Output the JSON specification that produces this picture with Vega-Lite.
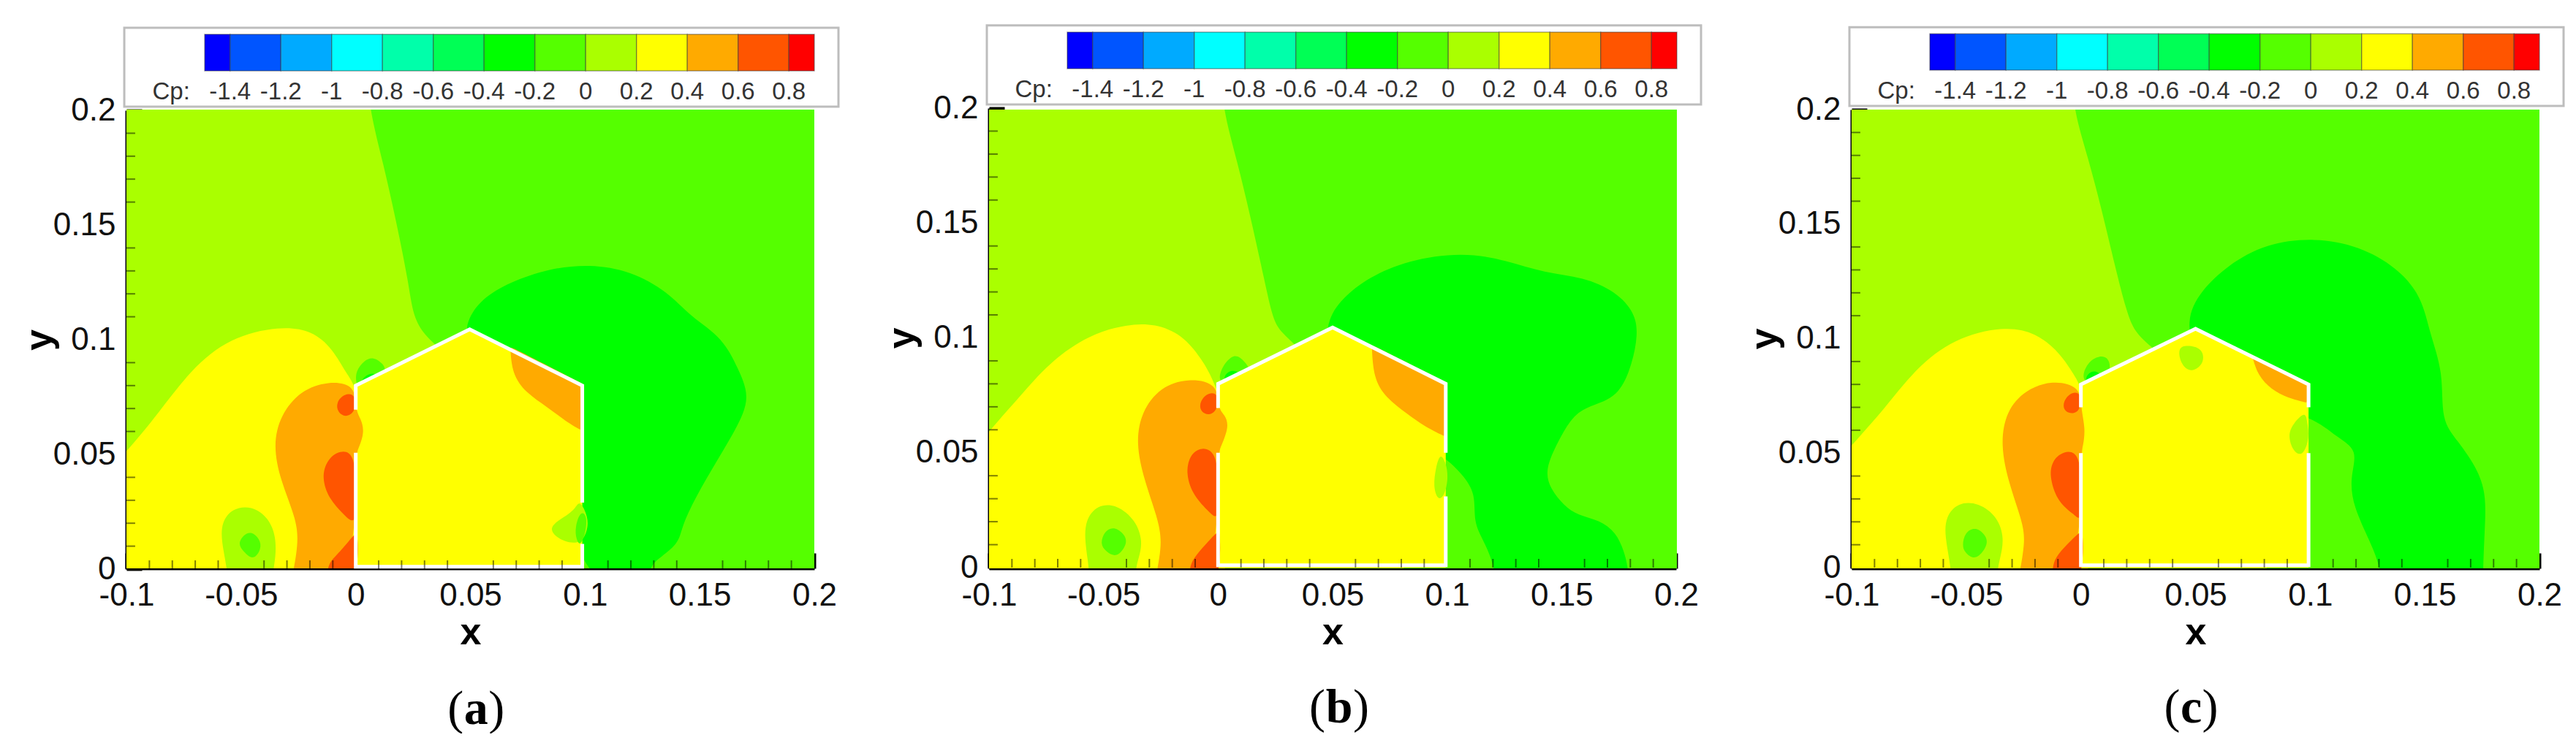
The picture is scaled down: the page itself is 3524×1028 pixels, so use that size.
{
"$schema":"https://vega.github.io/schema/vega-lite/v6.json",
"background":"white",
"padding":{"left":27,"top":33,"right":0,"bottom":0},
"bounds":"flush",
"spacing":239,
"config":{"view":{"stroke":null},"font":"Liberation Sans",
"axis":{"grid":false,"labelFont":"Liberation Sans","labelFontSize":44,"labelColor":"#111","domainColor":"black","domainWidth":4,"tickColor":"black","tickWidth":4,"tickSize":-21,"titleFont":"Liberation Sans","titleFontWeight":"bold","titleFontSize":52,"titleColor":"black","zindex":1}},
"datasets":{
"bands":[
{"level":-1.45,"from":-1.5,"to":-1.4},{"level":-1.3,"from":-1.4,"to":-1.2},{"level":-1.1,"from":-1.2,"to":-1.0},{"level":-0.9,"from":-1.0,"to":-0.8},{"level":-0.7,"from":-0.8,"to":-0.6},{"level":-0.5,"from":-0.6,"to":-0.4},{"level":-0.3,"from":-0.4,"to":-0.2},{"level":-0.1,"from":-0.2,"to":0},{"level":0.1,"from":0,"to":0.2},{"level":0.3,"from":0.2,"to":0.4},{"level":0.5,"from":0.4,"to":0.6},{"level":0.7,"from":0.6,"to":0.8},{"level":0.85,"from":0.8,"to":0.9}],
"cplabels":[{"cp":-1.4,"label":"-1.4"},{"cp":-1.2,"label":"-1.2"},{"cp":-1,"label":"-1"},{"cp":-0.8,"label":"-0.8"},{"cp":-0.6,"label":"-0.6"},{"cp":-0.4,"label":"-0.4"},{"cp":-0.2,"label":"-0.2"},{"cp":0,"label":"0"},{"cp":0.2,"label":"0.2"},{"cp":0.4,"label":"0.4"},{"cp":0.6,"label":"0.6"},{"cp":0.8,"label":"0.8"}],
"xminor":[{"v":-0.09},{"v":-0.08},{"v":-0.07},{"v":-0.06},{"v":-0.04},{"v":-0.03},{"v":-0.02},{"v":-0.01},{"v":0.01},{"v":0.02},{"v":0.03},{"v":0.04},{"v":0.06},{"v":0.07},{"v":0.08},{"v":0.09},{"v":0.11},{"v":0.12},{"v":0.13},{"v":0.14},{"v":0.16},{"v":0.17},{"v":0.18},{"v":0.19}],
"yminor":[{"v":0.01},{"v":0.02},{"v":0.03},{"v":0.04},{"v":0.06},{"v":0.07},{"v":0.08},{"v":0.09},{"v":0.11},{"v":0.12},{"v":0.13},{"v":0.14},{"v":0.16},{"v":0.17},{"v":0.18},{"v":0.19}],
"walls":[
{"panel":"a","part":1,"x":0,"y":0.0695},{"panel":"a","part":1,"x":0,"y":0.08},{"panel":"a","part":1,"x":0.0497,"y":0.1045},{"panel":"a","part":1,"x":0.0988,"y":0.08},{"panel":"a","part":1,"x":0.0988,"y":0.029},
{"panel":"a","part":2,"x":0.0988,"y":0.011},{"panel":"a","part":2,"x":0.0988,"y":0.001},{"panel":"a","part":2,"x":0,"y":0.001},{"panel":"a","part":2,"x":0,"y":0.0507},
{"panel":"b","part":1,"x":0,"y":0.0695},{"panel":"b","part":1,"x":0,"y":0.08},{"panel":"b","part":1,"x":0.05,"y":0.1045},{"panel":"b","part":1,"x":0.0994,"y":0.08},{"panel":"b","part":1,"x":0.0994,"y":0.05},
{"panel":"b","part":2,"x":0.0994,"y":0.031},{"panel":"b","part":2,"x":0.0994,"y":0.001},{"panel":"b","part":2,"x":0,"y":0.001},{"panel":"b","part":2,"x":0,"y":0.05},
{"panel":"c","part":1,"x":0,"y":0.07},{"panel":"c","part":1,"x":0,"y":0.08},{"panel":"c","part":1,"x":0.05,"y":0.1043},{"panel":"c","part":1,"x":0.0993,"y":0.08},{"panel":"c","part":1,"x":0.0993,"y":0.07},
{"panel":"c","part":2,"x":0.0993,"y":0.05},{"panel":"c","part":2,"x":0.0993,"y":0.001},{"panel":"c","part":2,"x":0,"y":0.001},{"panel":"c","part":2,"x":0,"y":0.05}],
"contours":[
{"panel":"a","region":1,"level":0.1,"x":-0.6,"y":-0.4},{"panel":"a","region":1,"level":0.1,"x":0.7,"y":-0.4},{"panel":"a","region":1,"level":0.1,"x":0.7,"y":0.6},{"panel":"a","region":1,"level":0.1,"x":-0.6,"y":0.6},
{"panel":"a","region":2,"level":-0.1,"x":0.005,"y":0.217},{"panel":"a","region":2,"level":-0.1,"x":0.006,"y":0.2},{"panel":"a","region":2,"level":-0.1,"x":0.012,"y":0.177},{"panel":"a","region":2,"level":-0.1,"x":0.018,"y":0.15},{"panel":"a","region":2,"level":-0.1,"x":0.023,"y":0.125},{"panel":"a","region":2,"level":-0.1,"x":0.025,"y":0.11},{"panel":"a","region":2,"level":-0.1,"x":0.03,"y":0.102},{"panel":"a","region":2,"level":-0.1,"x":0.036,"y":0.097},{"panel":"a","region":2,"level":-0.1,"x":0.05,"y":0.08},{"panel":"a","region":2,"level":-0.1,"x":0.08,"y":0.02},{"panel":"a","region":2,"level":-0.1,"x":0.1,"y":-0.1},{"panel":"a","region":2,"level":-0.1,"x":0.35,"y":-0.1},{"panel":"a","region":2,"level":-0.1,"x":0.35,"y":0.35},{"panel":"a","region":2,"level":-0.1,"x":0.005,"y":0.35},
{"panel":"a","region":3,"level":-0.3,"x":0.048,"y":0.098},{"panel":"a","region":3,"level":-0.3,"x":0.048,"y":0.108},{"panel":"a","region":3,"level":-0.3,"x":0.055,"y":0.118},{"panel":"a","region":3,"level":-0.3,"x":0.067,"y":0.125},{"panel":"a","region":3,"level":-0.3,"x":0.084,"y":0.131},{"panel":"a","region":3,"level":-0.3,"x":0.102,"y":0.133},{"panel":"a","region":3,"level":-0.3,"x":0.12,"y":0.13},{"panel":"a","region":3,"level":-0.3,"x":0.136,"y":0.121},{"panel":"a","region":3,"level":-0.3,"x":0.146,"y":0.11},{"panel":"a","region":3,"level":-0.3,"x":0.16,"y":0.101},{"panel":"a","region":3,"level":-0.3,"x":0.167,"y":0.087},{"panel":"a","region":3,"level":-0.3,"x":0.172,"y":0.075},{"panel":"a","region":3,"level":-0.3,"x":0.167,"y":0.063},{"panel":"a","region":3,"level":-0.3,"x":0.158,"y":0.048},{"panel":"a","region":3,"level":-0.3,"x":0.148,"y":0.031},{"panel":"a","region":3,"level":-0.3,"x":0.142,"y":0.018},{"panel":"a","region":3,"level":-0.3,"x":0.141,"y":0.011},{"panel":"a","region":3,"level":-0.3,"x":0.131,"y":0.004},{"panel":"a","region":3,"level":-0.3,"x":0.128,"y":0},{"panel":"a","region":3,"level":-0.3,"x":0.127,"y":-0.009},{"panel":"a","region":3,"level":-0.3,"x":0.098,"y":-0.009},{"panel":"a","region":3,"level":-0.3,"x":0.084,"y":0.06},
{"panel":"a","region":4,"level":0.3,"x":-0.25,"y":-0.1},{"panel":"a","region":4,"level":0.3,"x":-0.25,"y":-0.02},{"panel":"a","region":4,"level":0.3,"x":-0.12,"y":0.03},{"panel":"a","region":4,"level":0.3,"x":-0.1,"y":0.051},{"panel":"a","region":4,"level":0.3,"x":-0.086,"y":0.068},{"panel":"a","region":4,"level":0.3,"x":-0.072,"y":0.087},{"panel":"a","region":4,"level":0.3,"x":-0.055,"y":0.101},{"panel":"a","region":4,"level":0.3,"x":-0.033,"y":0.106},{"panel":"a","region":4,"level":0.3,"x":-0.019,"y":0.104},{"panel":"a","region":4,"level":0.3,"x":-0.01,"y":0.096},{"panel":"a","region":4,"level":0.3,"x":-0.004,"y":0.085},{"panel":"a","region":4,"level":0.3,"x":0,"y":0.08},{"panel":"a","region":4,"level":0.3,"x":0.005,"y":0.06},{"panel":"a","region":4,"level":0.3,"x":0.005,"y":-0.1},
{"panel":"a","region":5,"level":-0.1,"x":0,"y":0.081},{"panel":"a","region":5,"level":-0.1,"x":0,"y":0.0863},{"panel":"a","region":5,"level":-0.1,"x":0.0036,"y":0.091},{"panel":"a","region":5,"level":-0.1,"x":0.0077,"y":0.0926},{"panel":"a","region":5,"level":-0.1,"x":0.012,"y":0.0894},{"panel":"a","region":5,"level":-0.1,"x":0.013,"y":0.087},{"panel":"a","region":5,"level":-0.1,"x":0.013,"y":0.08},{"panel":"a","region":5,"level":-0.1,"x":0.002,"y":0.077},
{"panel":"a","region":6,"level":-0.3,"x":0.002,"y":0.081},{"panel":"a","region":6,"level":-0.3,"x":0.0036,"y":0.084},{"panel":"a","region":6,"level":-0.3,"x":0.0072,"y":0.0857},{"panel":"a","region":6,"level":-0.3,"x":0.0096,"y":0.0845},{"panel":"a","region":6,"level":-0.3,"x":0.009,"y":0.08},{"panel":"a","region":6,"level":-0.3,"x":0.004,"y":0.078},
{"panel":"a","region":7,"level":0.3,"x":0,"y":0},{"panel":"a","region":7,"level":0.3,"x":0,"y":0},{"panel":"a","region":7,"level":0.3,"x":0,"y":0},{"panel":"a","region":7,"level":0.3,"x":0,"y":0.08},{"panel":"a","region":7,"level":0.3,"x":0,"y":0.08},{"panel":"a","region":7,"level":0.3,"x":0,"y":0.08},{"panel":"a","region":7,"level":0.3,"x":0.0497,"y":0.1045},{"panel":"a","region":7,"level":0.3,"x":0.0497,"y":0.1045},{"panel":"a","region":7,"level":0.3,"x":0.0497,"y":0.1045},{"panel":"a","region":7,"level":0.3,"x":0.0988,"y":0.08},{"panel":"a","region":7,"level":0.3,"x":0.0988,"y":0.08},{"panel":"a","region":7,"level":0.3,"x":0.0988,"y":0.08},{"panel":"a","region":7,"level":0.3,"x":0.0988,"y":0},{"panel":"a","region":7,"level":0.3,"x":0.0988,"y":0},{"panel":"a","region":7,"level":0.3,"x":0.0988,"y":0},
{"panel":"a","region":8,"level":0.1,"x":-0.056,"y":0},{"panel":"a","region":8,"level":0.1,"x":-0.0586,"y":0.012},{"panel":"a","region":8,"level":0.1,"x":-0.0586,"y":0.0203},{"panel":"a","region":8,"level":0.1,"x":-0.0538,"y":0.0266},{"panel":"a","region":8,"level":0.1,"x":-0.0454,"y":0.0276},{"panel":"a","region":8,"level":0.1,"x":-0.038,"y":0.0224},{"panel":"a","region":8,"level":0.1,"x":-0.0347,"y":0.014},{"panel":"a","region":8,"level":0.1,"x":-0.035,"y":0.0046},{"panel":"a","region":8,"level":0.1,"x":-0.036,"y":0},{"panel":"a","region":8,"level":0.1,"x":-0.036,"y":-0.007},{"panel":"a","region":8,"level":0.1,"x":-0.056,"y":-0.007},
{"panel":"a","region":9,"level":-0.1,"x":-0.0514,"y":0.0109},{"panel":"a","region":9,"level":-0.1,"x":-0.049,"y":0.015},{"panel":"a","region":9,"level":-0.1,"x":-0.0454,"y":0.0165},{"panel":"a","region":9,"level":-0.1,"x":-0.0418,"y":0.013},{"panel":"a","region":9,"level":-0.1,"x":-0.0411,"y":0.0088},{"panel":"a","region":9,"level":-0.1,"x":-0.0447,"y":0.0036},{"panel":"a","region":9,"level":-0.1,"x":-0.049,"y":0.0077},
{"panel":"a","region":10,"level":0.5,"x":0,"y":0.0805},{"panel":"a","region":10,"level":0.5,"x":-0.012,"y":0.082},{"panel":"a","region":10,"level":0.5,"x":-0.024,"y":0.078},{"panel":"a","region":10,"level":0.5,"x":-0.033,"y":0.067},{"panel":"a","region":10,"level":0.5,"x":-0.036,"y":0.054},{"panel":"a","region":10,"level":0.5,"x":-0.033,"y":0.039},{"panel":"a","region":10,"level":0.5,"x":-0.026,"y":0.022},{"panel":"a","region":10,"level":0.5,"x":-0.025,"y":0.012},{"panel":"a","region":10,"level":0.5,"x":-0.027,"y":0},{"panel":"a","region":10,"level":0.5,"x":-0.029,"y":-0.009},{"panel":"a","region":10,"level":0.5,"x":0,"y":-0.009},{"panel":"a","region":10,"level":0.5,"x":0,"y":0.05},{"panel":"a","region":10,"level":0.5,"x":0.001,"y":0.052},{"panel":"a","region":10,"level":0.5,"x":0.004,"y":0.06},{"panel":"a","region":10,"level":0.5,"x":0.002,"y":0.066},{"panel":"a","region":10,"level":0.5,"x":0,"y":0.069},
{"panel":"a","region":11,"level":0.7,"x":0,"y":0.0765},{"panel":"a","region":11,"level":0.7,"x":-0.005,"y":0.0765},{"panel":"a","region":11,"level":0.7,"x":-0.0085,"y":0.0727},{"panel":"a","region":11,"level":0.7,"x":-0.008,"y":0.0685},{"panel":"a","region":11,"level":0.7,"x":-0.0045,"y":0.066},{"panel":"a","region":11,"level":0.7,"x":0,"y":0.0685},
{"panel":"a","region":12,"level":0.7,"x":0,"y":0.0507},{"panel":"a","region":12,"level":0.7,"x":-0.007,"y":0.052},{"panel":"a","region":12,"level":0.7,"x":-0.0127,"y":0.0475},{"panel":"a","region":12,"level":0.7,"x":-0.0148,"y":0.04},{"panel":"a","region":12,"level":0.7,"x":-0.012,"y":0.031},{"panel":"a","region":12,"level":0.7,"x":-0.005,"y":0.0235},{"panel":"a","region":12,"level":0.7,"x":0,"y":0.019},{"panel":"a","region":12,"level":0.7,"x":0,"y":0.03},
{"panel":"a","region":13,"level":0.7,"x":0,"y":0.016},{"panel":"a","region":13,"level":0.7,"x":-0.006,"y":0.0085},{"panel":"a","region":13,"level":0.7,"x":-0.011,"y":0.0036},{"panel":"a","region":13,"level":0.7,"x":-0.0124,"y":0},{"panel":"a","region":13,"level":0.7,"x":-0.013,"y":-0.009},{"panel":"a","region":13,"level":0.7,"x":0.001,"y":-0.009},{"panel":"a","region":13,"level":0.7,"x":0.001,"y":0.016},
{"panel":"a","region":14,"level":0.5,"x":0.0674,"y":0.097},{"panel":"a","region":14,"level":0.5,"x":0.0674,"y":0.097},{"panel":"a","region":14,"level":0.5,"x":0.0681,"y":0.0852},{"panel":"a","region":14,"level":0.5,"x":0.0741,"y":0.0769},{"panel":"a","region":14,"level":0.5,"x":0.0837,"y":0.0706},{"panel":"a","region":14,"level":0.5,"x":0.0932,"y":0.0632},{"panel":"a","region":14,"level":0.5,"x":0.0985,"y":0.0605},{"panel":"a","region":14,"level":0.5,"x":0.0985,"y":0.0605},{"panel":"a","region":14,"level":0.5,"x":0.0985,"y":0.081},{"panel":"a","region":14,"level":0.5,"x":0.0985,"y":0.081},{"panel":"a","region":14,"level":0.5,"x":0.0985,"y":0.081},
{"panel":"a","region":15,"level":0.1,"x":0.0849,"y":0.0182},{"panel":"a","region":15,"level":0.1,"x":0.0885,"y":0.0214},{"panel":"a","region":15,"level":0.1,"x":0.0956,"y":0.0255},{"panel":"a","region":15,"level":0.1,"x":0.0975,"y":0.0308},{"panel":"a","region":15,"level":0.1,"x":0.1016,"y":0.0224},{"panel":"a","region":15,"level":0.1,"x":0.1009,"y":0.0161},{"panel":"a","region":15,"level":0.1,"x":0.098,"y":0.0109},{"panel":"a","region":15,"level":0.1,"x":0.0908,"y":0.0119},{"panel":"a","region":15,"level":0.1,"x":0.0861,"y":0.0151},
{"panel":"a","region":16,"level":-0.1,"x":0.0956,"y":0.0182},{"panel":"a","region":16,"level":-0.1,"x":0.098,"y":0.0255},{"panel":"a","region":16,"level":-0.1,"x":0.1009,"y":0.0235},{"panel":"a","region":16,"level":-0.1,"x":0.1004,"y":0.0161},{"panel":"a","region":16,"level":-0.1,"x":0.098,"y":0.0098},{"panel":"a","region":16,"level":-0.1,"x":0.0961,"y":0.013},

{"panel":"b","region":1,"level":0.1,"x":-0.6,"y":-0.4},{"panel":"b","region":1,"level":0.1,"x":0.7,"y":-0.4},{"panel":"b","region":1,"level":0.1,"x":0.7,"y":0.6},{"panel":"b","region":1,"level":0.1,"x":-0.6,"y":0.6},
{"panel":"b","region":2,"level":-0.1,"x":0.0015,"y":0.217},{"panel":"b","region":2,"level":-0.1,"x":0.0019,"y":0.2},{"panel":"b","region":2,"level":-0.1,"x":0.0084,"y":0.1768},{"panel":"b","region":2,"level":-0.1,"x":0.0144,"y":0.1516},{"panel":"b","region":2,"level":-0.1,"x":0.0204,"y":0.1244},{"panel":"b","region":2,"level":-0.1,"x":0.024,"y":0.1076},{"panel":"b","region":2,"level":-0.1,"x":0.0276,"y":0.1024},{"panel":"b","region":2,"level":-0.1,"x":0.0347,"y":0.0961},{"panel":"b","region":2,"level":-0.1,"x":0.05,"y":0.08},{"panel":"b","region":2,"level":-0.1,"x":0.08,"y":0.02},{"panel":"b","region":2,"level":-0.1,"x":0.1,"y":-0.1},{"panel":"b","region":2,"level":-0.1,"x":0.35,"y":-0.1},{"panel":"b","region":2,"level":-0.1,"x":0.35,"y":0.35},{"panel":"b","region":2,"level":-0.1,"x":0.0015,"y":0.35},
{"panel":"b","region":3,"level":-0.3,"x":0.047,"y":0.09},{"panel":"b","region":3,"level":-0.3,"x":0.0472,"y":0.1072},{"panel":"b","region":3,"level":-0.3,"x":0.0539,"y":0.1171},{"panel":"b","region":3,"level":-0.3,"x":0.0659,"y":0.1265},{"panel":"b","region":3,"level":-0.3,"x":0.0827,"y":0.1338},{"panel":"b","region":3,"level":-0.3,"x":0.1066,"y":0.1374},{"panel":"b","region":3,"level":-0.3,"x":0.1258,"y":0.1338},{"panel":"b","region":3,"level":-0.3,"x":0.1426,"y":0.1282},{"panel":"b","region":3,"level":-0.3,"x":0.1594,"y":0.1265},{"panel":"b","region":3,"level":-0.3,"x":0.1737,"y":0.1202},{"panel":"b","region":3,"level":-0.3,"x":0.1821,"y":0.1108},{"panel":"b","region":3,"level":-0.3,"x":0.1833,"y":0.1014},{"panel":"b","region":3,"level":-0.3,"x":0.1809,"y":0.0888},{"panel":"b","region":3,"level":-0.3,"x":0.1749,"y":0.0741},{"panel":"b","region":3,"level":-0.3,"x":0.1618,"y":0.0704},{"panel":"b","region":3,"level":-0.3,"x":0.1546,"y":0.0658},{"panel":"b","region":3,"level":-0.3,"x":0.1486,"y":0.0553},{"panel":"b","region":3,"level":-0.3,"x":0.1426,"y":0.0427},{"panel":"b","region":3,"level":-0.3,"x":0.145,"y":0.0343},{"panel":"b","region":3,"level":-0.3,"x":0.151,"y":0.027},{"panel":"b","region":3,"level":-0.3,"x":0.157,"y":0.0228},{"panel":"b","region":3,"level":-0.3,"x":0.1665,"y":0.0207},{"panel":"b","region":3,"level":-0.3,"x":0.1737,"y":0.0155},{"panel":"b","region":3,"level":-0.3,"x":0.1773,"y":0.0071},{"panel":"b","region":3,"level":-0.3,"x":0.179,"y":0},{"panel":"b","region":3,"level":-0.3,"x":0.1797,"y":-0.01},{"panel":"b","region":3,"level":-0.3,"x":0.121,"y":-0.01},{"panel":"b","region":3,"level":-0.3,"x":0.121,"y":0},{"panel":"b","region":3,"level":-0.3,"x":0.1162,"y":0.0113},{"panel":"b","region":3,"level":-0.3,"x":0.1114,"y":0.0197},{"panel":"b","region":3,"level":-0.3,"x":0.1126,"y":0.0323},{"panel":"b","region":3,"level":-0.3,"x":0.1066,"y":0.0406},{"panel":"b","region":3,"level":-0.3,"x":0.0994,"y":0.048},{"panel":"b","region":3,"level":-0.3,"x":0.08,"y":0.06},
{"panel":"b","region":4,"level":0.3,"x":-0.25,"y":-0.1},{"panel":"b","region":4,"level":0.3,"x":-0.25,"y":-0.02},{"panel":"b","region":4,"level":0.3,"x":-0.12,"y":0.035},{"panel":"b","region":4,"level":0.3,"x":-0.1,"y":0.0595},{"panel":"b","region":4,"level":0.3,"x":-0.085,"y":0.0762},{"panel":"b","region":4,"level":0.3,"x":-0.0731,"y":0.0898},{"panel":"b","region":4,"level":0.3,"x":-0.0563,"y":0.1014},{"panel":"b","region":4,"level":0.3,"x":-0.0395,"y":0.106},{"panel":"b","region":4,"level":0.3,"x":-0.0276,"y":0.1062},{"panel":"b","region":4,"level":0.3,"x":-0.0156,"y":0.1014},{"panel":"b","region":4,"level":0.3,"x":-0.0072,"y":0.0909},{"panel":"b","region":4,"level":0.3,"x":-0.0012,"y":0.0804},{"panel":"b","region":4,"level":0.3,"x":0.005,"y":0.06},{"panel":"b","region":4,"level":0.3,"x":0.005,"y":-0.1},
{"panel":"b","region":5,"level":-0.1,"x":0,"y":0.0804},{"panel":"b","region":5,"level":-0.1,"x":0.0012,"y":0.0867},{"panel":"b","region":5,"level":-0.1,"x":0.006,"y":0.0926},{"panel":"b","region":5,"level":-0.1,"x":0.0096,"y":0.0919},{"panel":"b","region":5,"level":-0.1,"x":0.0132,"y":0.0877},{"panel":"b","region":5,"level":-0.1,"x":0.0144,"y":0.0846},{"panel":"b","region":5,"level":-0.1,"x":0.006,"y":0.08},
{"panel":"b","region":6,"level":-0.3,"x":0.0017,"y":0.0815},{"panel":"b","region":6,"level":-0.3,"x":0.0041,"y":0.0857},{"panel":"b","region":6,"level":-0.3,"x":0.0084,"y":0.0857},{"panel":"b","region":6,"level":-0.3,"x":0.0101,"y":0.0836},{"panel":"b","region":6,"level":-0.3,"x":0.006,"y":0.078},
{"panel":"b","region":7,"level":0.3,"x":0,"y":0},{"panel":"b","region":7,"level":0.3,"x":0,"y":0},{"panel":"b","region":7,"level":0.3,"x":0,"y":0},{"panel":"b","region":7,"level":0.3,"x":0,"y":0.08},{"panel":"b","region":7,"level":0.3,"x":0,"y":0.08},{"panel":"b","region":7,"level":0.3,"x":0,"y":0.08},{"panel":"b","region":7,"level":0.3,"x":0.05,"y":0.1045},{"panel":"b","region":7,"level":0.3,"x":0.05,"y":0.1045},{"panel":"b","region":7,"level":0.3,"x":0.05,"y":0.1045},{"panel":"b","region":7,"level":0.3,"x":0.0994,"y":0.08},{"panel":"b","region":7,"level":0.3,"x":0.0994,"y":0.08},{"panel":"b","region":7,"level":0.3,"x":0.0994,"y":0.08},{"panel":"b","region":7,"level":0.3,"x":0.0994,"y":0},{"panel":"b","region":7,"level":0.3,"x":0.0994,"y":0},{"panel":"b","region":7,"level":0.3,"x":0.0994,"y":0},
{"panel":"b","region":8,"level":0.1,"x":-0.0563,"y":0},{"panel":"b","region":8,"level":0.1,"x":-0.0582,"y":0.0113},{"panel":"b","region":8,"level":0.1,"x":-0.058,"y":0.0207},{"panel":"b","region":8,"level":0.1,"x":-0.0527,"y":0.0274},{"panel":"b","region":8,"level":0.1,"x":-0.0443,"y":0.0276},{"panel":"b","region":8,"level":0.1,"x":-0.0359,"y":0.0207},{"panel":"b","region":8,"level":0.1,"x":-0.0328,"y":0.0113},{"panel":"b","region":8,"level":0.1,"x":-0.0347,"y":0.004},{"panel":"b","region":8,"level":0.1,"x":-0.0359,"y":0},{"panel":"b","region":8,"level":0.1,"x":-0.0359,"y":-0.007},{"panel":"b","region":8,"level":0.1,"x":-0.0563,"y":-0.007},
{"panel":"b","region":9,"level":-0.1,"x":-0.0515,"y":0.0103},{"panel":"b","region":9,"level":-0.1,"x":-0.0496,"y":0.0159},{"panel":"b","region":9,"level":-0.1,"x":-0.0455,"y":0.018},{"panel":"b","region":9,"level":-0.1,"x":-0.0407,"y":0.0145},{"panel":"b","region":9,"level":-0.1,"x":-0.0395,"y":0.0103},{"panel":"b","region":9,"level":-0.1,"x":-0.0443,"y":0.004},{"panel":"b","region":9,"level":-0.1,"x":-0.0491,"y":0.0071},
{"panel":"b","region":10,"level":0.5,"x":0,"y":0.0804},{"panel":"b","region":10,"level":0.5,"x":-0.0132,"y":0.0825},{"panel":"b","region":10,"level":0.5,"x":-0.0252,"y":0.0787},{"panel":"b","region":10,"level":0.5,"x":-0.0335,"y":0.0679},{"panel":"b","region":10,"level":0.5,"x":-0.0359,"y":0.0542},{"panel":"b","region":10,"level":0.5,"x":-0.0324,"y":0.0385},{"panel":"b","region":10,"level":0.5,"x":-0.0264,"y":0.0218},{"panel":"b","region":10,"level":0.5,"x":-0.0244,"y":0.0113},{"panel":"b","region":10,"level":0.5,"x":-0.0264,"y":0},{"panel":"b","region":10,"level":0.5,"x":-0.028,"y":-0.009},{"panel":"b","region":10,"level":0.5,"x":0,"y":-0.009},{"panel":"b","region":10,"level":0.5,"x":0,"y":0.05},{"panel":"b","region":10,"level":0.5,"x":0.001,"y":0.052},{"panel":"b","region":10,"level":0.5,"x":0.005,"y":0.0616},{"panel":"b","region":10,"level":0.5,"x":0.0028,"y":0.0668},{"panel":"b","region":10,"level":0.5,"x":0,"y":0.069},
{"panel":"b","region":11,"level":0.7,"x":0,"y":0.0766},{"panel":"b","region":11,"level":0.7,"x":-0.0055,"y":0.0758},{"panel":"b","region":11,"level":0.7,"x":-0.0084,"y":0.071},{"panel":"b","region":11,"level":0.7,"x":-0.0072,"y":0.0674},{"panel":"b","region":11,"level":0.7,"x":-0.0036,"y":0.0662},{"panel":"b","region":11,"level":0.7,"x":0,"y":0.0689},
{"panel":"b","region":12,"level":0.7,"x":0,"y":0.05},{"panel":"b","region":12,"level":0.7,"x":-0.0072,"y":0.0528},{"panel":"b","region":12,"level":0.7,"x":-0.0125,"y":0.049},{"panel":"b","region":12,"level":0.7,"x":-0.0141,"y":0.0406},{"panel":"b","region":12,"level":0.7,"x":-0.0108,"y":0.0312},{"panel":"b","region":12,"level":0.7,"x":-0.0036,"y":0.0239},{"panel":"b","region":12,"level":0.7,"x":0,"y":0.0207},{"panel":"b","region":12,"level":0.7,"x":0,"y":0.03},
{"panel":"b","region":13,"level":0.7,"x":0,"y":0.016},{"panel":"b","region":13,"level":0.7,"x":-0.006,"y":0.0095},{"panel":"b","region":13,"level":0.7,"x":-0.0108,"y":0.004},{"panel":"b","region":13,"level":0.7,"x":-0.0125,"y":0},{"panel":"b","region":13,"level":0.7,"x":-0.013,"y":-0.009},{"panel":"b","region":13,"level":0.7,"x":0.001,"y":-0.009},{"panel":"b","region":13,"level":0.7,"x":0.001,"y":0.016},
{"panel":"b","region":14,"level":0.5,"x":0.0671,"y":0.097},{"panel":"b","region":14,"level":0.5,"x":0.0671,"y":0.097},{"panel":"b","region":14,"level":0.5,"x":0.0678,"y":0.0825},{"panel":"b","region":14,"level":0.5,"x":0.0731,"y":0.0741},{"panel":"b","region":14,"level":0.5,"x":0.0827,"y":0.0668},{"panel":"b","region":14,"level":0.5,"x":0.0899,"y":0.0616},{"panel":"b","region":14,"level":0.5,"x":0.0992,"y":0.057},{"panel":"b","region":14,"level":0.5,"x":0.0992,"y":0.057},{"panel":"b","region":14,"level":0.5,"x":0.0992,"y":0.0808},{"panel":"b","region":14,"level":0.5,"x":0.0992,"y":0.0808},{"panel":"b","region":14,"level":0.5,"x":0.0992,"y":0.0808},
{"panel":"b","region":15,"level":0.1,"x":0.097,"y":0.05},{"panel":"b","region":15,"level":0.1,"x":0.0951,"y":0.0438},{"panel":"b","region":15,"level":0.1,"x":0.0939,"y":0.0354},{"panel":"b","region":15,"level":0.1,"x":0.0959,"y":0.0291},{"panel":"b","region":15,"level":0.1,"x":0.099,"y":0.0312},{"panel":"b","region":15,"level":0.1,"x":0.1006,"y":0.0396},{"panel":"b","region":15,"level":0.1,"x":0.0994,"y":0.0459},

{"panel":"c","region":1,"level":0.1,"x":-0.6,"y":-0.4},{"panel":"c","region":1,"level":0.1,"x":0.7,"y":-0.4},{"panel":"c","region":1,"level":0.1,"x":0.7,"y":0.6},{"panel":"c","region":1,"level":0.1,"x":-0.6,"y":0.6},
{"panel":"c","region":2,"level":-0.1,"x":-0.0038,"y":0.217},{"panel":"c","region":2,"level":-0.1,"x":-0.0033,"y":0.2},{"panel":"c","region":2,"level":-0.1,"x":0.0031,"y":0.1793},{"panel":"c","region":2,"level":-0.1,"x":0.0091,"y":0.1562},{"panel":"c","region":2,"level":-0.1,"x":0.015,"y":0.1311},{"panel":"c","region":2,"level":-0.1,"x":0.0198,"y":0.1122},{"panel":"c","region":2,"level":-0.1,"x":0.0234,"y":0.1028},{"panel":"c","region":2,"level":-0.1,"x":0.0305,"y":0.0965},{"panel":"c","region":2,"level":-0.1,"x":0.05,"y":0.08},{"panel":"c","region":2,"level":-0.1,"x":0.08,"y":0.02},{"panel":"c","region":2,"level":-0.1,"x":0.1,"y":-0.1},{"panel":"c","region":2,"level":-0.1,"x":0.35,"y":-0.1},{"panel":"c","region":2,"level":-0.1,"x":0.35,"y":0.35},{"panel":"c","region":2,"level":-0.1,"x":-0.0038,"y":0.35},
{"panel":"c","region":3,"level":-0.3,"x":0.05,"y":0.09},{"panel":"c","region":3,"level":-0.3,"x":0.0456,"y":0.1081},{"panel":"c","region":3,"level":-0.3,"x":0.052,"y":0.1206},{"panel":"c","region":3,"level":-0.3,"x":0.064,"y":0.1321},{"panel":"c","region":3,"level":-0.3,"x":0.0807,"y":0.1416},{"panel":"c","region":3,"level":-0.3,"x":0.1021,"y":0.1441},{"panel":"c","region":3,"level":-0.3,"x":0.1212,"y":0.1405},{"panel":"c","region":3,"level":-0.3,"x":0.1379,"y":0.1311},{"panel":"c","region":3,"level":-0.3,"x":0.1487,"y":0.1185},{"panel":"c","region":3,"level":-0.3,"x":0.1523,"y":0.1018},{"panel":"c","region":3,"level":-0.3,"x":0.1582,"y":0.085},{"panel":"c","region":3,"level":-0.3,"x":0.157,"y":0.0641},{"panel":"c","region":3,"level":-0.3,"x":0.1642,"y":0.0557},{"panel":"c","region":3,"level":-0.3,"x":0.1737,"y":0.0421},{"panel":"c","region":3,"level":-0.3,"x":0.1768,"y":0.0306},{"panel":"c","region":3,"level":-0.3,"x":0.1761,"y":0.0159},{"panel":"c","region":3,"level":-0.3,"x":0.1754,"y":0},{"panel":"c","region":3,"level":-0.3,"x":0.1754,"y":-0.01},{"panel":"c","region":3,"level":-0.3,"x":0.1308,"y":-0.01},{"panel":"c","region":3,"level":-0.3,"x":0.1308,"y":0},{"panel":"c","region":3,"level":-0.3,"x":0.126,"y":0.0117},{"panel":"c","region":3,"level":-0.3,"x":0.1189,"y":0.0264},{"panel":"c","region":3,"level":-0.3,"x":0.1172,"y":0.039},{"panel":"c","region":3,"level":-0.3,"x":0.1212,"y":0.0515},{"panel":"c","region":3,"level":-0.3,"x":0.1117,"y":0.0568},{"panel":"c","region":3,"level":-0.3,"x":0.101,"y":0.0662},{"panel":"c","region":3,"level":-0.3,"x":0.08,"y":0.07},
{"panel":"c","region":4,"level":0.3,"x":-0.25,"y":-0.1},{"panel":"c","region":4,"level":0.3,"x":-0.25,"y":-0.02},{"panel":"c","region":4,"level":0.3,"x":-0.12,"y":0.03},{"panel":"c","region":4,"level":0.3,"x":-0.1,"y":0.0536},{"panel":"c","region":4,"level":0.3,"x":-0.0864,"y":0.0683},{"panel":"c","region":4,"level":0.3,"x":-0.0721,"y":0.0871},{"panel":"c","region":4,"level":0.3,"x":-0.0554,"y":0.1001},{"panel":"c","region":4,"level":0.3,"x":-0.0339,"y":0.1055},{"panel":"c","region":4,"level":0.3,"x":-0.0196,"y":0.1028},{"panel":"c","region":4,"level":0.3,"x":-0.0088,"y":0.0934},{"panel":"c","region":4,"level":0.3,"x":-0.0029,"y":0.084},{"panel":"c","region":4,"level":0.3,"x":0,"y":0.0792},{"panel":"c","region":4,"level":0.3,"x":0.005,"y":0.06},{"panel":"c","region":4,"level":0.3,"x":0.005,"y":-0.1},
{"panel":"c","region":5,"level":-0.1,"x":0,"y":0.0808},{"panel":"c","region":5,"level":-0.1,"x":0.0019,"y":0.0882},{"panel":"c","region":5,"level":-0.1,"x":0.0067,"y":0.0924},{"panel":"c","region":5,"level":-0.1,"x":0.0119,"y":0.0924},{"panel":"c","region":5,"level":-0.1,"x":0.0134,"y":0.0861},{"panel":"c","region":5,"level":-0.1,"x":0.009,"y":0.079},
{"panel":"c","region":6,"level":-0.3,"x":0.0012,"y":0.0819},{"panel":"c","region":6,"level":-0.3,"x":0.0043,"y":0.0861},{"panel":"c","region":6,"level":-0.3,"x":0.0079,"y":0.0855},{"panel":"c","region":6,"level":-0.3,"x":0.0091,"y":0.0829},{"panel":"c","region":6,"level":-0.3,"x":0.0043,"y":0.0787},
{"panel":"c","region":7,"level":0.3,"x":0,"y":0},{"panel":"c","region":7,"level":0.3,"x":0,"y":0},{"panel":"c","region":7,"level":0.3,"x":0,"y":0},{"panel":"c","region":7,"level":0.3,"x":0,"y":0.08},{"panel":"c","region":7,"level":0.3,"x":0,"y":0.08},{"panel":"c","region":7,"level":0.3,"x":0,"y":0.08},{"panel":"c","region":7,"level":0.3,"x":0.05,"y":0.1043},{"panel":"c","region":7,"level":0.3,"x":0.05,"y":0.1043},{"panel":"c","region":7,"level":0.3,"x":0.05,"y":0.1043},{"panel":"c","region":7,"level":0.3,"x":0.0993,"y":0.08},{"panel":"c","region":7,"level":0.3,"x":0.0993,"y":0.08},{"panel":"c","region":7,"level":0.3,"x":0.0993,"y":0.08},{"panel":"c","region":7,"level":0.3,"x":0.0993,"y":0},{"panel":"c","region":7,"level":0.3,"x":0.0993,"y":0},{"panel":"c","region":7,"level":0.3,"x":0.0993,"y":0},
{"panel":"c","region":8,"level":0.1,"x":-0.0566,"y":0},{"panel":"c","region":8,"level":0.1,"x":-0.0594,"y":0.0138},{"panel":"c","region":8,"level":0.1,"x":-0.059,"y":0.0222},{"panel":"c","region":8,"level":0.1,"x":-0.0537,"y":0.0285},{"panel":"c","region":8,"level":0.1,"x":-0.0446,"y":0.0285},{"panel":"c","region":8,"level":0.1,"x":-0.0363,"y":0.0222},{"panel":"c","region":8,"level":0.1,"x":-0.0334,"y":0.0128},{"panel":"c","region":8,"level":0.1,"x":-0.0351,"y":0.0044},{"panel":"c","region":8,"level":0.1,"x":-0.0363,"y":0},{"panel":"c","region":8,"level":0.1,"x":-0.0363,"y":-0.007},{"panel":"c","region":8,"level":0.1,"x":-0.0566,"y":-0.007},
{"panel":"c","region":9,"level":-0.1,"x":-0.0518,"y":0.0096},{"panel":"c","region":9,"level":-0.1,"x":-0.0506,"y":0.0155},{"panel":"c","region":9,"level":-0.1,"x":-0.0458,"y":0.018},{"panel":"c","region":9,"level":-0.1,"x":-0.0411,"y":0.0138},{"panel":"c","region":9,"level":-0.1,"x":-0.0406,"y":0.0096},{"panel":"c","region":9,"level":-0.1,"x":-0.0458,"y":0.0029},{"panel":"c","region":9,"level":-0.1,"x":-0.0506,"y":0.0065},
{"panel":"c","region":10,"level":0.5,"x":0,"y":0.0792},{"panel":"c","region":10,"level":0.5,"x":-0.0124,"y":0.0819},{"panel":"c","region":10,"level":0.5,"x":-0.0243,"y":0.0777},{"panel":"c","region":10,"level":0.5,"x":-0.0327,"y":0.0683},{"panel":"c","region":10,"level":0.5,"x":-0.0351,"y":0.0536},{"panel":"c","region":10,"level":0.5,"x":-0.0315,"y":0.0369},{"panel":"c","region":10,"level":0.5,"x":-0.0255,"y":0.0201},{"panel":"c","region":10,"level":0.5,"x":-0.0243,"y":0.0117},{"panel":"c","region":10,"level":0.5,"x":-0.0263,"y":0},{"panel":"c","region":10,"level":0.5,"x":-0.028,"y":-0.009},{"panel":"c","region":10,"level":0.5,"x":0,"y":-0.009},{"panel":"c","region":10,"level":0.5,"x":0,"y":0.0505},{"panel":"c","region":10,"level":0.5,"x":0.001,"y":0.053},{"panel":"c","region":10,"level":0.5,"x":0.002,"y":0.0609},{"panel":"c","region":10,"level":0.5,"x":0,"y":0.0693},
{"panel":"c","region":11,"level":0.7,"x":0,"y":0.0771},{"panel":"c","region":11,"level":0.7,"x":-0.0053,"y":0.0762},{"panel":"c","region":11,"level":0.7,"x":-0.0081,"y":0.0714},{"panel":"c","region":11,"level":0.7,"x":-0.0069,"y":0.0679},{"panel":"c","region":11,"level":0.7,"x":-0.0029,"y":0.067},{"panel":"c","region":11,"level":0.7,"x":0,"y":0.0693},
{"panel":"c","region":12,"level":0.7,"x":0,"y":0.0505},{"panel":"c","region":12,"level":0.7,"x":-0.0076,"y":0.0511},{"panel":"c","region":12,"level":0.7,"x":-0.0129,"y":0.0463},{"panel":"c","region":12,"level":0.7,"x":-0.0136,"y":0.039},{"panel":"c","region":12,"level":0.7,"x":-0.01,"y":0.0285},{"panel":"c","region":12,"level":0.7,"x":-0.0029,"y":0.0232},{"panel":"c","region":12,"level":0.7,"x":0,"y":0.0201},{"panel":"c","region":12,"level":0.7,"x":0,"y":0.03},
{"panel":"c","region":13,"level":0.7,"x":0,"y":0.016},{"panel":"c","region":13,"level":0.7,"x":-0.0064,"y":0.0098},{"panel":"c","region":13,"level":0.7,"x":-0.0112,"y":0.0044},{"panel":"c","region":13,"level":0.7,"x":-0.0124,"y":0},{"panel":"c","region":13,"level":0.7,"x":-0.0128,"y":-0.009},{"panel":"c","region":13,"level":0.7,"x":0.001,"y":-0.009},{"panel":"c","region":13,"level":0.7,"x":0.001,"y":0.016},
{"panel":"c","region":14,"level":0.5,"x":0.0747,"y":0.0925},{"panel":"c","region":14,"level":0.5,"x":0.0747,"y":0.0925},{"panel":"c","region":14,"level":0.5,"x":0.0771,"y":0.084},{"panel":"c","region":14,"level":0.5,"x":0.0831,"y":0.0777},{"panel":"c","region":14,"level":0.5,"x":0.0902,"y":0.0741},{"panel":"c","region":14,"level":0.5,"x":0.0986,"y":0.072},{"panel":"c","region":14,"level":0.5,"x":0.0986,"y":0.072},{"panel":"c","region":14,"level":0.5,"x":0.0986,"y":0.0808},{"panel":"c","region":14,"level":0.5,"x":0.0986,"y":0.0808},{"panel":"c","region":14,"level":0.5,"x":0.0986,"y":0.0808},
{"panel":"c","region":15,"level":0.1,"x":0.0979,"y":0.0683},{"panel":"c","region":15,"level":0.1,"x":0.0926,"y":0.063},{"panel":"c","region":15,"level":0.1,"x":0.0902,"y":0.0578},{"panel":"c","region":15,"level":0.1,"x":0.0926,"y":0.0505},{"panel":"c","region":15,"level":0.1,"x":0.0969,"y":0.0484},{"panel":"c","region":15,"level":0.1,"x":0.0998,"y":0.0568},{"panel":"c","region":15,"level":0.1,"x":0.0986,"y":0.0641},
{"panel":"c","region":16,"level":0.1,"x":0.042,"y":0.0965},{"panel":"c","region":16,"level":0.1,"x":0.0473,"y":0.0972},{"panel":"c","region":16,"level":0.1,"x":0.0532,"y":0.0955},{"panel":"c","region":16,"level":0.1,"x":0.0539,"y":0.0892},{"panel":"c","region":16,"level":0.1,"x":0.0484,"y":0.085},{"panel":"c","region":16,"level":0.1,"x":0.0437,"y":0.0882}
]},
"hconcat":[
{"width":941,"height":628,"resolve":{"scale":{"x":"independent"}},"layer":[
 {"layer":[
  {"data":{"name":"contours"},"transform":[{"filter":"datum.panel == 'a'"}],
   "mark":{"type":"line","filled":true,"interpolate":"basis-closed","clip":true,"strokeWidth":0},
   "encoding":{
    "x":{"field":"x","type":"quantitative","scale":{"domain":[-0.1,0.2],"nice":false,"zero":false},"axis":{"title":"x","values":[-0.1,-0.05,0,0.05,0.1,0.15,0.2],"labelExpr":"datum.value","labelPadding":36,"labelFlush":false,"labelOverlap":false,"titlePadding":3}},
    "y":{"field":"y","type":"quantitative","scale":{"domain":[0,0.2],"nice":false,"zero":false,"range":[629,1]},"axis":{"title":"y","values":[0,0.05,0.1,0.15,0.2],"labelExpr":"datum.value","labelPadding":36,"labelFlush":false,"labelOverlap":false,"titlePadding":-8}},
    "color":{"field":"level","type":"ordinal","legend":null,"scale":{"domain":[-1.45,-1.3,-1.1,-0.9,-0.7,-0.5,-0.3,-0.1,0.1,0.3,0.5,0.7,0.85],"range":["#0000ff","#0055ff","#00aaff","#00ffff","#00ffaa","#00ff55","#00ff00","#55ff00","#aaff00","#ffff00","#ffaa00","#ff5500","#ff0000"]}},
    "detail":{"field":"region"},
    "order":{"value":null}}},
  {"data":{"name":"walls"},"transform":[{"filter":"datum.panel == 'a'"}],
   "mark":{"type":"line","color":"white","strokeWidth":5,"clip":false},
   "encoding":{"x":{"field":"x","type":"quantitative"},"y":{"field":"y","type":"quantitative"},"detail":{"field":"part"},"order":{"value":null}}},
  {"data":{"name":"xminor"},"mark":{"type":"rule","color":"black","opacity":0.5,"strokeWidth":2},
   "encoding":{"x":{"field":"v","type":"quantitative"},"y":{"datum":0,"type":"quantitative"},"y2":{"datum":0.0038}}},
  {"data":{"name":"yminor"},"mark":{"type":"rule","color":"black","opacity":0.5,"strokeWidth":2},
   "encoding":{"y":{"field":"v","type":"quantitative"},"x":{"datum":-0.1,"type":"quantitative"},"x2":{"datum":-0.0962}}},
  {"data":{"values":[{"part":"a"}]},"mark":{"type":"text","font":"Liberation Serif","fontSize":66,"fontWeight":"bold","baseline":"middle","color":"black"},
   "encoding":{"x":{"datum":0.0525,"type":"quantitative"},"y":{"datum":-0.0611,"type":"quantitative"},"text":{"field":"part"}}},
  {"data":{"values":[{"part":"("}]},"mark":{"type":"text","font":"Liberation Serif","fontSize":66,"align":"right","dx":-17,"baseline":"middle","color":"black"},
   "encoding":{"x":{"datum":0.0525,"type":"quantitative"},"y":{"datum":-0.0611,"type":"quantitative"},"text":{"field":"part"}}},
  {"data":{"values":[{"part":")"}]},"mark":{"type":"text","font":"Liberation Serif","fontSize":66,"align":"left","dx":17,"baseline":"middle","color":"black"},
   "encoding":{"x":{"datum":0.0525,"type":"quantitative"},"y":{"datum":-0.0611,"type":"quantitative"},"text":{"field":"part"}}}
 ]},
 {"layer":[
  {"data":{"values":[{"part":"frame"}]},"mark":{"type":"rect","fill":"white","stroke":"#bdbdbd","strokeWidth":3},
   "encoding":{"x":{"datum":-1.8165,"type":"quantitative","axis":null,"scale":{"domain":[-1.5,0.9],"range":[107,941],"nice":false,"zero":false}},"x2":{"datum":0.995},"y":{"datum":0.2016,"type":"quantitative"},"y2":{"datum":0.236}}},
  {"data":{"name":"bands"},"mark":{"type":"rect","stroke":"#333","strokeOpacity":0.45,"strokeWidth":1.5},
   "encoding":{"x":{"field":"from","type":"quantitative","axis":null,"scale":{"domain":[-1.5,0.9],"range":[107,941],"nice":false,"zero":false}},"x2":{"field":"to"},"y":{"datum":0.2172,"type":"quantitative"},"y2":{"datum":0.2331},
    "color":{"field":"level","type":"ordinal","legend":null,"scale":{"domain":[-1.45,-1.3,-1.1,-0.9,-0.7,-0.5,-0.3,-0.1,0.1,0.3,0.5,0.7,0.85],"range":["#0000ff","#0055ff","#00aaff","#00ffff","#00ffaa","#00ff55","#00ff00","#55ff00","#aaff00","#ffff00","#ffaa00","#ff5500","#ff0000"]}}}},
  {"data":{"name":"cplabels"},"mark":{"type":"text","fontSize":33,"color":"#333","baseline":"middle"},
   "encoding":{"x":{"field":"cp","type":"quantitative","axis":null},"y":{"datum":0.208,"type":"quantitative"},"text":{"field":"label"}}},
  {"data":{"values":[{"label":"Cp:"}]},"mark":{"type":"text","fontSize":33,"color":"#333","baseline":"middle"},
   "encoding":{"x":{"datum":-1.632,"type":"quantitative","axis":null},"y":{"datum":0.208,"type":"quantitative"},"text":{"field":"label"}}}
 ]}
]},
{"width":941,"height":628,"resolve":{"scale":{"x":"independent"}},"layer":[
 {"layer":[
  {"data":{"name":"contours"},"transform":[{"filter":"datum.panel == 'b'"}],
   "mark":{"type":"line","filled":true,"interpolate":"basis-closed","clip":true,"strokeWidth":0},
   "encoding":{
    "x":{"field":"x","type":"quantitative","scale":{"domain":[-0.1,0.2],"nice":false,"zero":false,"range":[0,940]},"axis":{"title":"x","values":[-0.1,-0.05,0,0.05,0.1,0.15,0.2],"labelExpr":"datum.value","labelPadding":36,"labelFlush":false,"labelOverlap":false,"titlePadding":3}},
    "y":{"field":"y","type":"quantitative","scale":{"domain":[0,0.2],"nice":false,"zero":false,"range":[627,-2]},"axis":{"title":"y","values":[0,0.05,0.1,0.15,0.2],"labelExpr":"datum.value","labelPadding":36,"labelFlush":false,"labelOverlap":false,"titlePadding":-8}},
    "color":{"field":"level","type":"ordinal","legend":null,"scale":{"domain":[-1.45,-1.3,-1.1,-0.9,-0.7,-0.5,-0.3,-0.1,0.1,0.3,0.5,0.7,0.85],"range":["#0000ff","#0055ff","#00aaff","#00ffff","#00ffaa","#00ff55","#00ff00","#55ff00","#aaff00","#ffff00","#ffaa00","#ff5500","#ff0000"]}},
    "detail":{"field":"region"},
    "order":{"value":null}}},
  {"data":{"name":"walls"},"transform":[{"filter":"datum.panel == 'b'"}],
   "mark":{"type":"line","color":"white","strokeWidth":5,"clip":false},
   "encoding":{"x":{"field":"x","type":"quantitative"},"y":{"field":"y","type":"quantitative"},"detail":{"field":"part"},"order":{"value":null}}},
  {"data":{"name":"xminor"},"mark":{"type":"rule","color":"black","opacity":0.5,"strokeWidth":2},
   "encoding":{"x":{"field":"v","type":"quantitative"},"y":{"datum":0,"type":"quantitative"},"y2":{"datum":0.0038}}},
  {"data":{"name":"yminor"},"mark":{"type":"rule","color":"black","opacity":0.5,"strokeWidth":2},
   "encoding":{"y":{"field":"v","type":"quantitative"},"x":{"datum":-0.1,"type":"quantitative"},"x2":{"datum":-0.0962}}},
  {"data":{"values":[{"part":"b"}]},"mark":{"type":"text","font":"Liberation Serif","fontSize":66,"fontWeight":"bold","baseline":"middle","color":"black"},
   "encoding":{"x":{"datum":0.0529,"type":"quantitative"},"y":{"datum":-0.0611,"type":"quantitative"},"text":{"field":"part"}}},
  {"data":{"values":[{"part":"("}]},"mark":{"type":"text","font":"Liberation Serif","fontSize":66,"align":"right","dx":-19,"baseline":"middle","color":"black"},
   "encoding":{"x":{"datum":0.0529,"type":"quantitative"},"y":{"datum":-0.0611,"type":"quantitative"},"text":{"field":"part"}}},
  {"data":{"values":[{"part":")"}]},"mark":{"type":"text","font":"Liberation Serif","fontSize":66,"align":"left","dx":19,"baseline":"middle","color":"black"},
   "encoding":{"x":{"datum":0.0529,"type":"quantitative"},"y":{"datum":-0.0611,"type":"quantitative"},"text":{"field":"part"}}}
 ]},
 {"layer":[
  {"data":{"values":[{"part":"frame"}]},"mark":{"type":"rect","fill":"white","stroke":"#bdbdbd","strokeWidth":3},
   "encoding":{"x":{"datum":-1.8165,"type":"quantitative","axis":null,"scale":{"domain":[-1.5,0.9],"range":[107,941],"nice":false,"zero":false}},"x2":{"datum":0.995},"y":{"datum":0.2016,"type":"quantitative"},"y2":{"datum":0.236}}},
  {"data":{"name":"bands"},"mark":{"type":"rect","stroke":"#333","strokeOpacity":0.45,"strokeWidth":1.5},
   "encoding":{"x":{"field":"from","type":"quantitative","axis":null,"scale":{"domain":[-1.5,0.9],"range":[107,941],"nice":false,"zero":false}},"x2":{"field":"to"},"y":{"datum":0.2172,"type":"quantitative"},"y2":{"datum":0.2331},
    "color":{"field":"level","type":"ordinal","legend":null,"scale":{"domain":[-1.45,-1.3,-1.1,-0.9,-0.7,-0.5,-0.3,-0.1,0.1,0.3,0.5,0.7,0.85],"range":["#0000ff","#0055ff","#00aaff","#00ffff","#00ffaa","#00ff55","#00ff00","#55ff00","#aaff00","#ffff00","#ffaa00","#ff5500","#ff0000"]}}}},
  {"data":{"name":"cplabels"},"mark":{"type":"text","fontSize":33,"color":"#333","baseline":"middle"},
   "encoding":{"x":{"field":"cp","type":"quantitative","axis":null},"y":{"datum":0.208,"type":"quantitative"},"text":{"field":"label"}}},
  {"data":{"values":[{"label":"Cp:"}]},"mark":{"type":"text","fontSize":33,"color":"#333","baseline":"middle"},
   "encoding":{"x":{"datum":-1.632,"type":"quantitative","axis":null},"y":{"datum":0.208,"type":"quantitative"},"text":{"field":"label"}}}
 ]}
]},
{"width":941,"height":628,"resolve":{"scale":{"x":"independent"}},"layer":[
 {"layer":[
  {"data":{"name":"contours"},"transform":[{"filter":"datum.panel == 'c'"}],
   "mark":{"type":"line","filled":true,"interpolate":"basis-closed","clip":true,"strokeWidth":0},
   "encoding":{
    "x":{"field":"x","type":"quantitative","scale":{"domain":[-0.1,0.2],"nice":false,"zero":false},"axis":{"title":"x","values":[-0.1,-0.05,0,0.05,0.1,0.15,0.2],"labelExpr":"datum.value","labelPadding":36,"labelFlush":false,"labelOverlap":false,"titlePadding":3}},
    "y":{"field":"y","type":"quantitative","scale":{"domain":[0,0.2],"nice":false,"zero":false,"range":[627,0]},"axis":{"title":"y","values":[0,0.05,0.1,0.15,0.2],"labelExpr":"datum.value","labelPadding":36,"labelFlush":false,"labelOverlap":false,"titlePadding":-8}},
    "color":{"field":"level","type":"ordinal","legend":null,"scale":{"domain":[-1.45,-1.3,-1.1,-0.9,-0.7,-0.5,-0.3,-0.1,0.1,0.3,0.5,0.7,0.85],"range":["#0000ff","#0055ff","#00aaff","#00ffff","#00ffaa","#00ff55","#00ff00","#55ff00","#aaff00","#ffff00","#ffaa00","#ff5500","#ff0000"]}},
    "detail":{"field":"region"},
    "order":{"value":null}}},
  {"data":{"name":"walls"},"transform":[{"filter":"datum.panel == 'c'"}],
   "mark":{"type":"line","color":"white","strokeWidth":5,"clip":false},
   "encoding":{"x":{"field":"x","type":"quantitative"},"y":{"field":"y","type":"quantitative"},"detail":{"field":"part"},"order":{"value":null}}},
  {"data":{"name":"xminor"},"mark":{"type":"rule","color":"black","opacity":0.5,"strokeWidth":2},
   "encoding":{"x":{"field":"v","type":"quantitative"},"y":{"datum":0,"type":"quantitative"},"y2":{"datum":0.0038}}},
  {"data":{"name":"yminor"},"mark":{"type":"rule","color":"black","opacity":0.5,"strokeWidth":2},
   "encoding":{"y":{"field":"v","type":"quantitative"},"x":{"datum":-0.1,"type":"quantitative"},"x2":{"datum":-0.0962}}},
  {"data":{"values":[{"part":"c"}]},"mark":{"type":"text","font":"Liberation Serif","fontSize":66,"fontWeight":"bold","baseline":"middle","color":"black"},
   "encoding":{"x":{"datum":0.0481,"type":"quantitative"},"y":{"datum":-0.0611,"type":"quantitative"},"text":{"field":"part"}}},
  {"data":{"values":[{"part":"("}]},"mark":{"type":"text","font":"Liberation Serif","fontSize":66,"align":"right","dx":-15,"baseline":"middle","color":"black"},
   "encoding":{"x":{"datum":0.0481,"type":"quantitative"},"y":{"datum":-0.0611,"type":"quantitative"},"text":{"field":"part"}}},
  {"data":{"values":[{"part":")"}]},"mark":{"type":"text","font":"Liberation Serif","fontSize":66,"align":"left","dx":15,"baseline":"middle","color":"black"},
   "encoding":{"x":{"datum":0.0481,"type":"quantitative"},"y":{"datum":-0.0611,"type":"quantitative"},"text":{"field":"part"}}}
 ]},
 {"layer":[
  {"data":{"values":[{"part":"frame"}]},"mark":{"type":"rect","fill":"white","stroke":"#bdbdbd","strokeWidth":3},
   "encoding":{"x":{"datum":-1.8165,"type":"quantitative","axis":null,"scale":{"domain":[-1.5,0.9],"range":[107,941],"nice":false,"zero":false}},"x2":{"datum":0.995},"y":{"datum":0.2016,"type":"quantitative"},"y2":{"datum":0.236}}},
  {"data":{"name":"bands"},"mark":{"type":"rect","stroke":"#333","strokeOpacity":0.45,"strokeWidth":1.5},
   "encoding":{"x":{"field":"from","type":"quantitative","axis":null,"scale":{"domain":[-1.5,0.9],"range":[107,941],"nice":false,"zero":false}},"x2":{"field":"to"},"y":{"datum":0.2172,"type":"quantitative"},"y2":{"datum":0.2331},
    "color":{"field":"level","type":"ordinal","legend":null,"scale":{"domain":[-1.45,-1.3,-1.1,-0.9,-0.7,-0.5,-0.3,-0.1,0.1,0.3,0.5,0.7,0.85],"range":["#0000ff","#0055ff","#00aaff","#00ffff","#00ffaa","#00ff55","#00ff00","#55ff00","#aaff00","#ffff00","#ffaa00","#ff5500","#ff0000"]}}}},
  {"data":{"name":"cplabels"},"mark":{"type":"text","fontSize":33,"color":"#333","baseline":"middle"},
   "encoding":{"x":{"field":"cp","type":"quantitative","axis":null},"y":{"datum":0.208,"type":"quantitative"},"text":{"field":"label"}}},
  {"data":{"values":[{"label":"Cp:"}]},"mark":{"type":"text","fontSize":33,"color":"#333","baseline":"middle"},
   "encoding":{"x":{"datum":-1.632,"type":"quantitative","axis":null},"y":{"datum":0.208,"type":"quantitative"},"text":{"field":"label"}}}
 ]}
]}
]}
